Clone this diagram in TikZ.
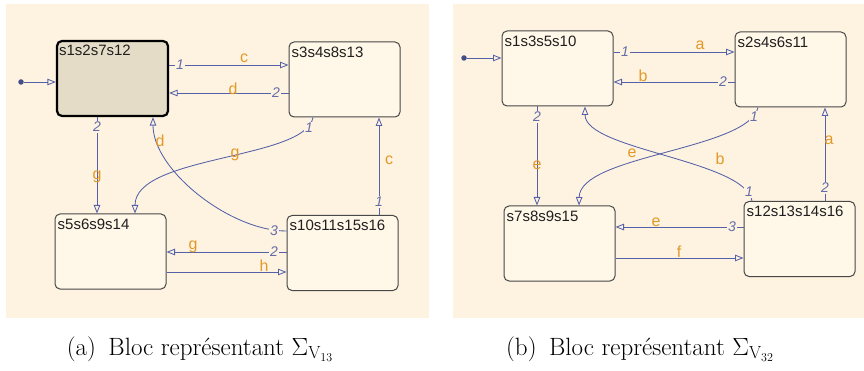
\documentclass[tikz,border=0pt]{standalone}
\usepackage{fontspec}
\usepackage{amsmath}
\usepackage{xcolor}
\usepackage{tikz}
\usetikzlibrary{arrows.meta}
\newfontfamily\statefont{Liberation Sans}
\definecolor{panelbg}{RGB}{253,243,224}
\definecolor{statebg}{RGB}{255,247,232}
\definecolor{initbg}{RGB}{229,220,200}
\definecolor{transblue}{RGB}{85,96,168}
\definecolor{evtorange}{RGB}{228,152,40}
\definecolor{prioblue}{RGB}{100,108,170}
\tikzset{
  statetext/.style={anchor=north west, inner xsep=3pt, inner ysep=5pt,
    font=\statefont\fontsize{15}{15}\selectfont, text=black!88},
  state/.style={draw=black!72, line width=1pt, fill=statebg, rounded corners=5pt,
    minimum width=111pt, minimum height=75pt, inner sep=0pt,
    label={[statetext]north west:#1}},
  initstate/.style={state=#1, draw=black, line width=2.2pt, fill=initbg},
  trans/.style={draw=transblue, line width=0.85pt, -{Triangle[open, length=8.5pt, width=6.5pt]}},
  evt/.style={text=evtorange, font=\statefont\fontsize{16}{16}\selectfont, inner sep=0pt},
  prio/.style={text=prioblue, font=\statefont\itshape\fontsize{14}{14}\selectfont,
    fill=panelbg, inner sep=1pt},
  initdot/.style={circle, fill=transblue!80!black, inner sep=0pt, minimum size=5.5pt},
  subcap/.style={anchor=base, font=\fontsize{25}{25}\selectfont}
}
\begin{document}
\begin{tikzpicture}[x=1pt, y=-1pt]
\useasboundingbox (0,0) rectangle (864,371);
\fill[panelbg] (6,4) rectangle (429,318);
\fill[panelbg] (453,4) rectangle (864,318);

\node[initstate=s1s2s7s12] (a1) at (112.5,78.5) {};
\node[state=s3s4s8s13]     (a3) at (344.5,79.5) {};
\node[state=s5s6s9s14]     (a5) at (110.5,251.5) {};
\node[state=s10s11s15s16]  (a10) at (342.5,253) {};
\node[initdot] (ia) at (21,82) {};
\draw[trans] (ia) -- (a1.west |- ia);
\draw[trans] (a1.east |- 0,65) -- (a3.west |- 0,65);
\draw[trans] (a3.west |- 0,93) -- (a1.east |- 0,93);
\draw[trans] (a1.south -| 97,0) -- (a5.north -| 97,0);
\draw[trans] (a3.south -| 313,0) .. controls (305,160) and (135,155) .. (a5.north -| 135,0);
\draw[trans] (a10.west |- 0,231) .. controls (230,231) and (153,170) .. (a1.south -| 153,0);
\draw[trans] (a10.west |- 0,252) -- (a5.east |- 0,252);
\draw[trans] (a5.east |- 0,272) -- (a10.west |- 0,272);
\draw[trans] (a10.north -| 379,0) -- (a3.south -| 379,0);
\node[prio] (pa1) at (180,65) {1};
\node[prio] (pa2) at (276,93) {2};
\node[prio] (pa3) at (97,127) {2};
\node[prio] (pa4) at (309,128) {1};
\node[prio] (pa5) at (274,231) {3};
\node[prio] (pa6) at (274,252) {2};
\node[prio] (pa7) at (379,202) {1};
\node[evt] (ea1) at (244,58) {c};
\node[evt] (ea2) at (233,89) {d};
\node[evt] (ea3) at (97,177) {g};
\node[evt] (ea4) at (235,155) {g};
\node[evt] (ea5) at (160,141) {d};
\node[evt] (ea6) at (193,247) {g};
\node[evt] (ea7) at (264,266) {h};
\node[evt] (ea8) at (389,160) {c};

\node[state=s1s3s5s10]     (b1) at (557.5,68.5) {};
\node[state=s2s4s6s11]     (b2) at (790.5,69.5) {};
\node[state=s7s8s9s15]     (b7) at (559.5,243.5) {};
\node[state=s12s13s14s16]  (b12) at (799.5,239) {};
\node[initdot] (ib) at (464,58) {};
\draw[trans] (ib) -- (b1.west |- ib);
\draw[trans] (b1.east |- 0,52) -- (b2.west |- 0,52);
\draw[trans] (b2.west |- 0,82) -- (b1.east |- 0,82);
\draw[trans] (b1.south -| 537,0) -- (b7.north -| 537,0);
\draw[trans] (b2.south -| 758,0) .. controls (748,150) and (580,155) .. (b7.north -| 579,0);
\draw[trans] (b12.north -| 752,0) .. controls (745,160) and (585,150) .. (b1.south -| 585,0);
\draw[trans] (b12.north -| 825,0) -- (b2.south -| 825,0);
\draw[trans] (b12.west |- 0,227) -- (b7.east |- 0,227);
\draw[trans] (b7.east |- 0,258) -- (b12.west |- 0,258);
\node[prio] (pb1) at (625,52) {1};
\node[prio] (pb2) at (723,82) {2};
\node[prio] (pb3) at (537,117) {2};
\node[prio] (pb4) at (754,117) {1};
\node[prio] (pb5) at (749,192) {1};
\node[prio] (pb6) at (825,188) {2};
\node[prio] (pb7) at (732,227) {3};
\node[evt] (eb1) at (700,45) {a};
\node[evt] (eb2) at (643,76) {b};
\node[evt] (eb3) at (537,165) {e};
\node[evt] (eb4) at (632,153) {e};
\node[evt] (eb5) at (720,159) {b};
\node[evt] (eb6) at (829,140) {a};
\node[evt] (eb7) at (656,222) {e};
\node[evt] (eb8) at (679,252) {f};

\node[subcap] (capa) at (200,355) {(a)\enspace Bloc représentant $\Sigma_{\mathrm{V}_{13}}$};
\node[subcap] (capb) at (640,355) {(b)\enspace Bloc représentant $\Sigma_{\mathrm{V}_{32}}$};
\end{tikzpicture}
\end{document}
